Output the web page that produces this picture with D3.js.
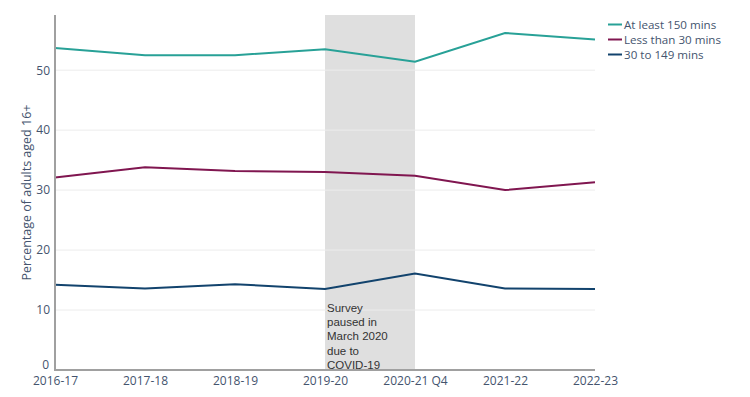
<!DOCTYPE html>
<html>
<head>
<meta charset="utf-8">
<script src="https://cdn.jsdelivr.net/npm/d3@7"></script>
<style>
html,body{margin:0;padding:0;background:#fff;}
svg{display:block;}
</style>
</head>
<body>
<svg id="chart" width="750" height="397"></svg>
<script>
const categories = ["2016-17","2017-18","2018-19","2019-20","2020-21 Q4","2021-22","2022-23"];
const atLeast150 = [53.7, 52.5, 52.5, 53.5, 51.4, 56.2, 55.1];
const lessThan30 = [32.1, 33.8, 33.2, 33.0, 32.4, 30.0, 31.3];
const from30to149 = [14.2, 13.6, 14.3, 13.5, 16.1, 13.6, 13.5];
const yTicks = [0, 10, 20, 30, 40, 50];
const seriesNames = ["At least 150 mins", "Less than 30 mins", "30 to 149 mins"];
const seriesColors = ["#28A197", "#801650", "#12436D"];
const shadedFrom = "2019-20", shadedTo = "2020-21 Q4";
const noteLines = ["Survey", "paused in", "March 2020", "due to", "COVID-19"];
const yTitle = "Percentage of adults aged 16+";

const series = [atLeast150, lessThan30, from30to149];
const svg = d3.select("#chart");
const m = {left:55, right:155, top:15, bottom:27};
const W = 750, H = 397;

const x = d3.scalePoint().domain(categories).range([m.left, W - m.right]);
const y = d3.scaleLinear().domain([0, 59.2]).range([H - m.bottom, m.top]);

const font = "'Open Sans', sans-serif";
const tickColor = "#44546e";

// shaded region
svg.append("rect")
  .attr("x", x(shadedFrom)).attr("y", y(59.2))
  .attr("width", x(shadedTo) - x(shadedFrom))
  .attr("height", y(0) - y(59.2))
  .attr("fill", "#dfdfdf");

// gridlines
svg.append("g").selectAll("line").data(yTicks.filter(d => d > 0)).join("line")
  .attr("x1", m.left).attr("x2", W - m.right)
  .attr("y1", d => y(d)).attr("y2", d => y(d))
  .attr("stroke", "#ececec").attr("stroke-width", 1);

// lines
const line = d3.line().x((d,i) => x(categories[i])).y(d => y(d));
series.forEach((s, k) => {
  svg.append("path").datum(s)
    .attr("d", line).attr("fill", "none")
    .attr("stroke", seriesColors[k]).attr("stroke-width", 2);
});

// axes
const yAxis = d3.axisLeft(y).tickValues(yTicks).tickSize(0).tickPadding(5);
const gy = svg.append("g").attr("transform", `translate(${m.left},0)`).call(yAxis);
gy.select(".domain").remove();
gy.selectAll("text").attr("font-family", font).attr("font-size", 12).attr("fill", tickColor);
gy.selectAll(".tick").filter(d => d === 0).select("text").attr("y", -5).attr("dx", "-1");

const xAxis = d3.axisBottom(x).tickSize(0).tickPadding(6);
const gx = svg.append("g").attr("transform", `translate(0,${H - m.bottom})`).call(xAxis);
gx.select(".domain").remove();
gx.selectAll("text").attr("font-family", font).attr("font-size", 12).attr("fill", tickColor);

// axis lines
svg.append("line").attr("x1", m.left).attr("x2", m.left)
  .attr("y1", y(59.2)).attr("y2", y(0)).attr("stroke", "#a0a0a0").attr("stroke-width", 2);
svg.append("line").attr("x1", m.left - 1).attr("x2", W - m.right)
  .attr("y1", y(0)).attr("y2", y(0)).attr("stroke", "#a0a0a0").attr("stroke-width", 2);

// y title
svg.append("text")
  .attr("transform", `translate(31,${(y(0)+y(59.2))/2}) rotate(-90)`)
  .attr("text-anchor", "middle")
  .attr("font-family", font).attr("font-size", 12.5).attr("fill", tickColor)
  .text(yTitle);

// annotation
const note = svg.append("text")
  .attr("font-family", "'Liberation Sans', Arial, sans-serif").attr("font-size", 11.5).attr("fill", "#333");
noteLines.forEach((t, i) => {
  note.append("tspan").attr("x", x(shadedFrom) + 2).attr("y", 312 + i * 14.2).text(t);
});

// legend
const lg = svg.append("g");
seriesNames.forEach((n, i) => {
  const yy = 24.5 + i * 15;
  lg.append("line").attr("x1", 608).attr("x2", 622).attr("y1", yy).attr("y2", yy)
    .attr("stroke", seriesColors[i]).attr("stroke-width", 2);
  lg.append("text").attr("x", 624).attr("y", yy + 4.2)
    .attr("font-family", font).attr("font-size", 11.6).attr("fill", tickColor).text(n);
});
</script>
</body>
</html>
